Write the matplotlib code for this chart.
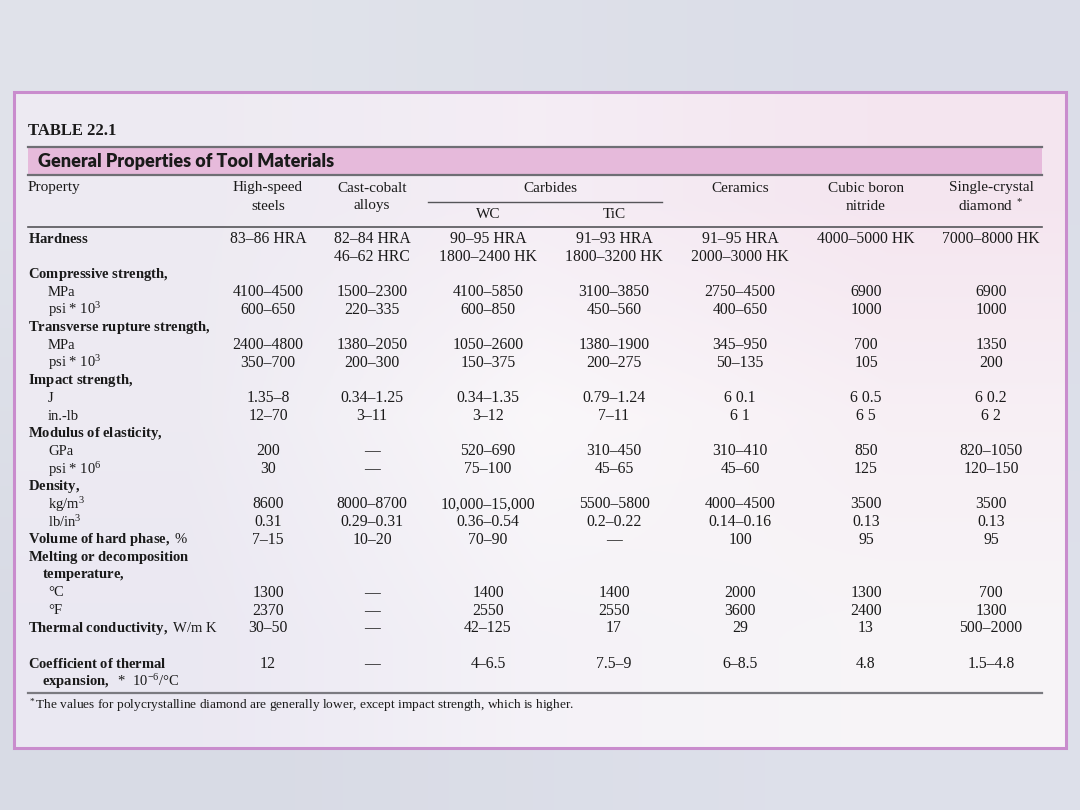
import numpy as np
import matplotlib.pyplot as plt
from matplotlib.patches import Rectangle

plt.rcParams['mathtext.fontset'] = 'custom'
plt.rcParams['mathtext.rm'] = 'Liberation Serif'
plt.rcParams['mathtext.it'] = 'Liberation Serif:italic'
plt.rcParams['mathtext.bf'] = 'Liberation Serif:bold'

SERIF = 'Liberation Serif'

# table content
columns = ['High-speed\nsteels', 'Cast-cobalt\nalloys', 'WC', 'TiC', 'Ceramics',
           'Cubic boron\nnitride', 'Single-crystal\ndiamond $^*$']

# (bold part, normal part, indent level)
row_labels = [
    ('Hardness', '', 0),
    ('', '', 0),
    ('Compressive strength,', '', 0),
    ('', 'MPa', 2),
    ('', 'psi * 10$^3$', 2),
    ('Transverse rupture strength,', '', 0),
    ('', 'MPa', 2),
    ('', 'psi * 10$^3$', 2),
    ('Impact strength,', '', 0),
    ('', 'J', 2),
    ('', 'in.-lb', 2),
    ('Modulus of elasticity,', '', 0),
    ('', 'GPa', 2),
    ('', 'psi * 10$^6$', 2),
    ('Density,', '', 0),
    ('', 'kg/m$^3$', 2),
    ('', 'lb/in$^3$', 2),
    ('Volume of hard phase,', ' %', 0),
    ('Melting or decomposition', '', 0),
    ('temperature,', '', 1),
    ('', '°C', 2),
    ('', '°F', 2),
    ('Thermal conductivity,', ' W/m K', 0),
    ('', '', 0),
    ('Coefficient of thermal', '', 0),
    ('expansion,', '  *  10$^{-6}$/°C', 1),
]

hss = ['83–86 HRA', '', '', '4100–4500', '600–650', '', '2400–4800', '350–700', '',
       '1.35–8', '12–70', '', '200', '30', '', '8600', '0.31', '7–15', '', '',
       '1300', '2370', '30–50', '', '12', '']
cast_cobalt = ['82–84 HRA', '46–62 HRC', '', '1500–2300', '220–335', '', '1380–2050', '200–300', '',
               '0.34–1.25', '3–11', '', '—', '—', '', '8000–8700', '0.29–0.31', '10–20', '', '',
               '—', '—', '—', '', '—', '']
wc = ['90–95 HRA', '1800–2400 HK', '', '4100–5850', '600–850', '', '1050–2600', '150–375', '',
      '0.34–1.35', '3–12', '', '520–690', '75–100', '', '10,000–15,000', '0.36–0.54', '70–90', '', '',
      '1400', '2550', '42–125', '', '4–6.5', '']
tic = ['91–93 HRA', '1800–3200 HK', '', '3100–3850', '450–560', '', '1380–1900', '200–275', '',
       '0.79–1.24', '7–11', '', '310–450', '45–65', '', '5500–5800', '0.2–0.22', '—', '', '',
       '1400', '2550', '17', '', '7.5–9', '']
ceramics = ['91–95 HRA', '2000–3000 HK', '', '2750–4500', '400–650', '', '345–950', '50–135', '',
            '6 0.1', '6 1', '', '310–410', '45–60', '', '4000–4500', '0.14–0.16', '100', '', '',
            '2000', '3600', '29', '', '6–8.5', '']
cbn = ['4000–5000 HK', '', '', '6900', '1000', '', '700', '105', '',
       '6 0.5', '6 5', '', '850', '125', '', '3500', '0.13', '95', '', '',
       '1300', '2400', '13', '', '4.8', '']
diamond = ['7000–8000 HK', '', '', '6900', '1000', '', '1350', '200', '',
           '6 0.2', '6 2', '', '820–1050', '120–150', '', '3500', '0.13', '95', '', '',
           '700', '1300', '500–2000', '', '1.5–4.8', '']

footnote = '$^*$The values for polycrystalline diamond are generally lower, except impact strength, which is higher.'

fig = plt.figure(figsize=(10.8, 8.1), dpi=100)
ax = fig.add_axes([0, 0, 1, 1])
ax.set_xlim(0, 1080)
ax.set_ylim(810, 0)
ax.axis('off')

# outer background
bg = np.array([[[0.88, 0.89, 0.92], [0.86, 0.87, 0.91]],
               [[0.85, 0.86, 0.90], [0.87, 0.88, 0.92]]])
ax.imshow(bg, extent=[0, 1080, 810, 0], interpolation='bilinear', aspect='auto', zorder=0)

# panel with soft gradient
panel = np.array([
    [[0.93, 0.92, 0.95], [0.96, 0.93, 0.96], [0.96, 0.90, 0.94]],
    [[0.93, 0.92, 0.95], [0.98, 0.97, 0.98], [0.97, 0.94, 0.96]],
    [[0.92, 0.91, 0.95], [0.96, 0.95, 0.97], [0.97, 0.96, 0.97]],
])
ax.imshow(panel, extent=[14, 1066, 748, 92], interpolation='bilinear', aspect='auto', zorder=1)
ax.add_patch(Rectangle((14, 92), 1052, 656, fill=False, ec='#c98ccd', lw=2.2, zorder=2))

# header band and rules
ax.add_patch(Rectangle((28, 147), 1014, 28, fc='#e6badb', ec='none', zorder=2))
ax.plot([28, 1042], [147, 147], color='#6e6e74', lw=1.6, zorder=3)
ax.plot([28, 1042], [175, 175], color='#6e6e74', lw=1.6, zorder=3)
ax.plot([428, 662], [202, 202], color='#555559', lw=1.0, zorder=3)
ax.plot([28, 1042], [227, 227], color='#555559', lw=1.2, zorder=3)
ax.plot([28, 1042], [693, 693], color='#7a7a80', lw=1.6, zorder=3)

txt = dict(family=SERIF, color='#1a1a1a', zorder=4)

ax.text(28, 131, 'TABLE 22.1', fontsize=12, fontweight='bold', va='center', ha='left', **txt)
ax.text(38, 161, 'General Properties of Tool Materials', family='Lato', fontsize=13,
        fontweight='heavy', color='#1a1a1a', va='center', ha='left', zorder=4)

# column headers
col_x = [268, 372, 488, 614, 740, 866, 991]
hfs = 11
ax.text(28, 188, 'Property', fontsize=hfs, va='center', ha='left', **txt)
for x, name in zip(col_x, columns):
    if '\n' in name:
        top, bottom = name.split('\n')
        ax.text(x, 188, top, fontsize=hfs, va='center', ha='center', **txt)
        ax.text(x, 206, bottom, fontsize=hfs, va='center', ha='center', **txt)
    elif name in ('WC', 'TiC'):
        ax.text(x, 215, name, fontsize=hfs, va='center', ha='center', **txt)
    else:
        ax.text(x, 188, name, fontsize=hfs, va='center', ha='center', **txt)
ax.text(550, 188, 'Carbides', fontsize=hfs, va='center', ha='center', **txt)

# rows
indent_x = [28, 42, 48]
y0, dy = 239, 17.7
series = [hss, cast_cobalt, wc, tic, ceramics, cbn, diamond]
for i, (bold, normal, lvl) in enumerate(row_labels):
    y = y0 + dy * i
    label = ''
    if bold:
        label = r'$\mathbf{' + bold.replace(' ', r'\ ') + '}$'
    label += normal
    if label:
        ax.text(indent_x[lvl], y, label, fontsize=10.5, va='center', ha='left', **txt)
    for x, col in zip(col_x, series):
        if col[i]:
            ax.text(x, y, col[i], fontsize=11.3, va='center', ha='center', **txt)

ax.text(28, 705, footnote, fontsize=9.6, va='center', ha='left', **txt)

fig.savefig('out.png', dpi=100)
